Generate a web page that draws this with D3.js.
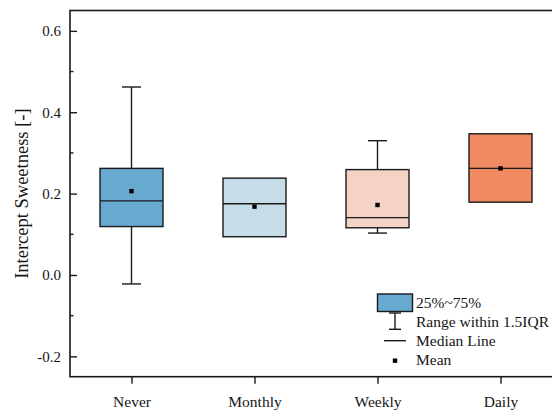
<!DOCTYPE html>
<html>
<head>
<meta charset="utf-8">
<script src="https://cdn.jsdelivr.net/npm/d3@7"></script>
<style>
  html, body { margin: 0; padding: 0; background: #fff; }
  svg { display: block; font-family: "Liberation Serif", "Times New Roman", serif; }
</style>
</head>
<body>
<svg id="chart" width="552" height="410"></svg>
<script>
// Frequency groups and their box-plot statistics
const categories = ["Never", "Monthly", "Weekly", "Daily"];
const q1Values     = [0.119, 0.094, 0.116, 0.179];
const medianValues = [0.182, 0.175, 0.141, 0.262];
const q3Values     = [0.262, 0.238, 0.259, 0.347];
const meanValues   = [0.206, 0.168, 0.172, 0.262];
const whiskerLow   = [-0.022, 0.094, 0.103, 0.179];
const whiskerHigh  = [0.462, 0.238, 0.330, 0.347];
const boxColors    = ["#67a9cf", "#c6dce9", "#f4d3c6", "#ef8a62"];
const yTicks = [-0.2, 0.0, 0.2, 0.4, 0.6];
const yMinorTicks = [-0.1, 0.1, 0.3, 0.5];
const legendLabels = ["25%~75%", "Range within 1.5IQR", "Median Line", "Mean"];

const serif = "'Liberation Serif', 'Times New Roman', serif";
const svg = d3.select("#chart");
const plotLeft = 70, plotRight = 562, plotTop = 10.5, plotBottom = 376.7;

const x = d3.scalePoint().domain(categories).range([plotLeft, plotRight]).padding(0.5);
const y = d3.scaleLinear().domain([-0.25, 0.65]).range([plotBottom, plotTop]);

const rows = categories.map((c, i) => ({
  cat: c, q1: q1Values[i], med: medianValues[i], q3: q3Values[i],
  mean: meanValues[i], lo: whiskerLow[i], hi: whiskerHigh[i], color: boxColors[i]
}));

const boxW = 63, capW = 19;
const ink = "#1a1a1a";
const textInk = "#151515";

// Whiskers
const g = svg.append("g");
rows.forEach(d => {
  const cx = x(d.cat);
  if (d.hi > d.q3) {
    g.append("line").attr("x1", cx).attr("x2", cx).attr("y1", y(d.q3)).attr("y2", y(d.hi))
      .attr("stroke", ink).attr("stroke-width", 1.4);
    g.append("line").attr("x1", cx - capW / 2).attr("x2", cx + capW / 2).attr("y1", y(d.hi)).attr("y2", y(d.hi))
      .attr("stroke", ink).attr("stroke-width", 1.4);
  }
  if (d.lo < d.q1) {
    g.append("line").attr("x1", cx).attr("x2", cx).attr("y1", y(d.q1)).attr("y2", y(d.lo))
      .attr("stroke", ink).attr("stroke-width", 1.4);
    g.append("line").attr("x1", cx - capW / 2).attr("x2", cx + capW / 2).attr("y1", y(d.lo)).attr("y2", y(d.lo))
      .attr("stroke", ink).attr("stroke-width", 1.4);
  }
});

// Boxes
g.selectAll("rect.box").data(rows).join("rect")
  .attr("class", "box")
  .attr("x", d => x(d.cat) - boxW / 2)
  .attr("width", boxW)
  .attr("y", d => y(d.q3))
  .attr("height", d => y(d.q1) - y(d.q3))
  .attr("fill", d => d.color)
  .attr("stroke", ink).attr("stroke-width", 1.4);

// Median lines
g.selectAll("line.med").data(rows).join("line")
  .attr("class", "med")
  .attr("x1", d => x(d.cat) - boxW / 2).attr("x2", d => x(d.cat) + boxW / 2)
  .attr("y1", d => y(d.med)).attr("y2", d => y(d.med))
  .attr("stroke", ink).attr("stroke-width", 1.4);

// Mean markers
g.selectAll("rect.mean").data(rows).join("rect")
  .attr("class", "mean")
  .attr("x", d => x(d.cat) - 2.2).attr("y", d => y(d.mean) - 2.2)
  .attr("width", 4.4).attr("height", 4.4).attr("fill", "#000");

// Frame
svg.append("rect").attr("x", plotLeft).attr("y", plotTop)
  .attr("width", plotRight - plotLeft).attr("height", plotBottom - plotTop)
  .attr("fill", "none").attr("stroke", ink).attr("stroke-width", 1.6);

// Y axis (ticks point into the plot)
const yAxis = svg.append("g").attr("transform", `translate(${plotLeft},0)`)
  .call(d3.axisLeft(y).tickValues(yTicks).tickFormat(d => d.toFixed(1)).tickSize(-7).tickPadding(9));
yAxis.attr("font-family", serif).attr("font-size", 15);
yAxis.select(".domain").remove();
yAxis.selectAll(".tick line").attr("stroke", ink).attr("stroke-width", 1.4);
yAxis.selectAll(".tick text").attr("fill", textInk);
svg.append("g").selectAll("line").data(yMinorTicks).join("line")
  .attr("x1", plotLeft).attr("x2", plotLeft + 3.5)
  .attr("y1", d => y(d)).attr("y2", d => y(d))
  .attr("stroke", ink).attr("stroke-width", 1.4);

// X axis (ticks point outward)
const xAxis = svg.append("g").attr("transform", `translate(0,${plotBottom})`)
  .call(d3.axisBottom(x).tickSize(7).tickPadding(12));
xAxis.attr("font-family", serif).attr("font-size", 15.5);
xAxis.select(".domain").remove();
xAxis.selectAll(".tick line").attr("stroke", ink).attr("stroke-width", 1.4);
xAxis.selectAll(".tick text").attr("fill", textInk);

// Y axis title
svg.append("text")
  .attr("transform", `translate(28,${(plotTop + plotBottom) / 2}) rotate(-90)`)
  .attr("text-anchor", "middle")
  .attr("font-family", serif)
  .attr("font-size", 18.5).attr("fill", textInk)
  .text("Intercept Sweetness [-]");

// Legend
const lg = svg.append("g").attr("font-family", serif);
const lx = 395, tx = 416;
lg.append("rect").attr("x", lx - 17.5).attr("y", 294).attr("width", 35).attr("height", 17.5)
  .attr("fill", boxColors[0]).attr("stroke", ink).attr("stroke-width", 1.4);
lg.append("line").attr("x1", lx).attr("x2", lx).attr("y1", 313).attr("y2", 329.3)
  .attr("stroke", ink).attr("stroke-width", 1.4);
[313, 329.3].forEach(yy => lg.append("line").attr("x1", lx - 6).attr("x2", lx + 6)
  .attr("y1", yy).attr("y2", yy).attr("stroke", ink).attr("stroke-width", 1.4));
lg.append("line").attr("x1", 384).attr("x2", 406).attr("y1", 340.7).attr("y2", 340.7)
  .attr("stroke", ink).attr("stroke-width", 1.4);
lg.append("rect").attr("x", lx - 2.2).attr("y", 358.5).attr("width", 4.4).attr("height", 4.4).attr("fill", "#000");
const baselines = [307.5, 326.5, 346, 365];
lg.selectAll("text").data(legendLabels).join("text")
  .attr("x", tx).attr("y", (d, i) => baselines[i])
  .attr("font-size", 15.5).attr("fill", textInk)
  .text(d => d);
</script>
</body>
</html>
